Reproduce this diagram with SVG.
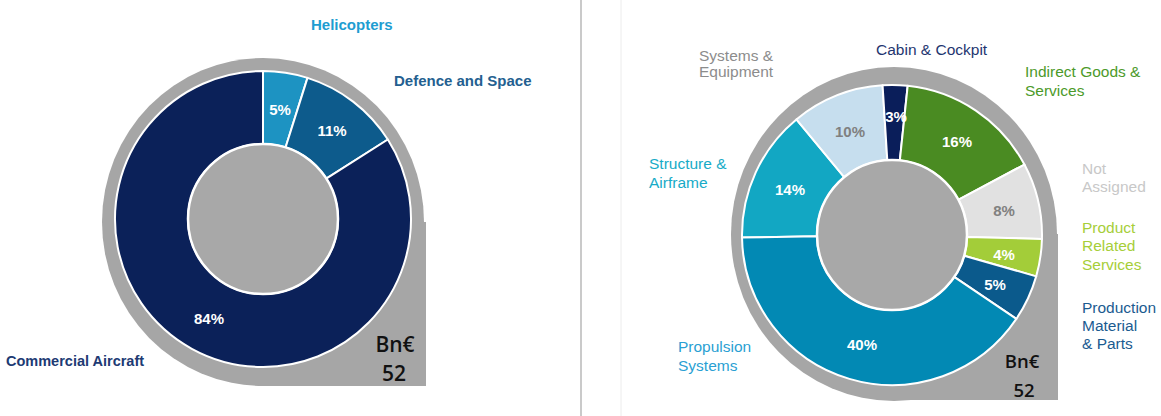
<svg xmlns="http://www.w3.org/2000/svg" width="1161" height="416" viewBox="0 0 1161 416">
<style>
.lbl{font-family:"Liberation Sans",Arial,sans-serif;font-size:15.5px}
.lblb{font-family:"Liberation Sans",Arial,sans-serif;font-size:15px;font-weight:bold}
.pct{font-family:"Liberation Sans",Arial,sans-serif;font-size:15px;font-weight:bold;text-anchor:middle}
.w{fill:#ffffff}
.g{fill:#808080}
.seg{stroke:#ffffff;stroke-width:2;stroke-linejoin:round}
.hub{fill:#a8a8a8;stroke:#ffffff;stroke-width:2.5}
.back{fill:#a6a6a6}
.bn{font-family:"Open Sans","Noto Sans",sans-serif;font-weight:600;fill:#111111;text-anchor:middle}
</style>
<rect x="0" y="0" width="1161" height="416" fill="#ffffff"/>
<line x1="581" y1="0" x2="581" y2="416" stroke="#b8b8b8" stroke-width="1.5"/>
<line x1="621" y1="0" x2="621" y2="416" stroke="#ececec" stroke-width="1"/>

<g id="chart-left">
  <g id="left-backdrop">
    <ellipse class="back" cx="263" cy="222" rx="161" ry="164"/>
    <rect class="back" x="263" y="222" width="163" height="164"/>
  </g>
  <g id="node-helicopters">
    <path class="seg" fill="#1d93c2" d="M263,71 A148,148 0 0 1 307.51,77.85 L285.55,147.47 A75,75 0 0 0 263,144 Z"/>
    <text class="pct w" x="280" y="115">5%</text>
    <text class="lblb" x="311" y="30" fill="#1e9dd1">Helicopters</text>
  </g>
  <g id="node-defence">
    <path class="seg" fill="#0d5b8c" d="M307.51,77.85 A148,148 0 0 1 387.82,139.48 L326.25,178.70 A75,75 0 0 0 285.55,147.47 Z"/>
    <text class="pct w" x="332" y="136">11%</text>
    <text class="lblb" x="394" y="86" fill="#245f90">Defence and Space</text>
  </g>
  <g id="node-commercial">
    <path class="seg" fill="#0b2159" d="M387.82,139.48 A148,148 0 1 1 263,71 L263,144 A75,75 0 1 0 326.25,178.70 Z"/>
    <text class="pct w" x="209" y="324">84%</text>
    <text class="lblb" x="6" y="366" fill="#203a73" style="font-size:14.5px">Commercial Aircraft</text>
  </g>
  <circle id="left-hub" class="hub" cx="263" cy="219" r="75"/>
  <g id="left-total">
    <text class="bn" x="395" y="352" font-size="21">Bn€</text>
    <text class="bn" x="394" y="381" font-size="21">52</text>
  </g>
</g>

<g id="chart-right">
  <g id="right-backdrop">
    <ellipse class="back" cx="894" cy="234" rx="163" ry="167"/>
    <rect class="back" x="894" y="234" width="164" height="166"/>
  </g>
  <g id="node-structure">
    <path class="seg" fill="#12a7c3" d="M742.02,237.62 A150,150 0 0 1 796.39,119.42 L844.19,177.21 A75,75 0 0 0 817.01,236.31 Z"/>
    <text class="pct w" x="790" y="195">14%</text>
    <text class="lbl" fill="#17abc7"><tspan x="649" y="169">Structure &amp;</tspan><tspan x="649" y="188">Airframe</tspan></text>
  </g>
  <g id="node-systems">
    <path class="seg" fill="#c6deee" d="M796.39,119.42 A150,150 0 0 1 882.58,85.30 L887.29,160.15 A75,75 0 0 0 844.19,177.21 Z"/>
    <text class="pct g" x="850" y="137">10%</text>
    <text class="lbl" fill="#8c8c8c"><tspan x="699" y="61">Systems &amp;</tspan><tspan x="699" y="77">Equipment</tspan></text>
  </g>
  <g id="node-cabin">
    <path class="seg" fill="#0a1e5a" d="M882.58,85.30 A150,150 0 0 1 907.68,85.82 L899.84,160.41 A75,75 0 0 0 887.29,160.15 Z"/>
    <text class="lbl" x="876" y="55" fill="#1f3670">Cabin &amp; Cockpit</text>
  </g>
  <g id="node-indirect">
    <path class="seg" fill="#4a8b22" d="M907.68,85.82 A150,150 0 0 1 1024.44,164.58 L958.22,199.79 A75,75 0 0 0 899.84,160.41 Z"/>
    <text class="pct w" x="957" y="147">16%</text>
    <text class="lbl" fill="#4c9a2a"><tspan x="1025" y="77">Indirect Goods &amp;</tspan><tspan x="1025" y="96">Services</tspan></text>
  </g>
  <text class="pct w" x="896" y="122">3%</text>
  <g id="node-notassigned">
    <path class="seg" fill="#e1e1e1" d="M1024.44,164.58 A150,150 0 0 1 1041.95,238.93 L966.97,236.96 A75,75 0 0 0 958.22,199.79 Z"/>
    <text class="pct g" x="1004" y="216">8%</text>
    <text class="lbl" fill="#c8c8c8"><tspan x="1082" y="174">Not</tspan><tspan x="1082" y="192">Assigned</tspan></text>
  </g>
  <g id="node-product">
    <path class="seg" fill="#a3cd39" d="M1041.95,238.93 A150,150 0 0 1 1036.19,276.35 L964.09,255.67 A75,75 0 0 0 966.97,236.96 Z"/>
    <text class="pct w" x="1004" y="260">4%</text>
    <text class="lbl" fill="#a6ce39"><tspan x="1082" y="233">Product</tspan><tspan x="1082" y="251">Related</tspan><tspan x="1082" y="270">Services</tspan></text>
  </g>
  <g id="node-production">
    <path class="seg" fill="#0b5a8c" d="M1036.19,276.35 A150,150 0 0 1 1016.36,318.88 L954.18,276.94 A75,75 0 0 0 964.09,255.67 Z"/>
    <text class="pct w" x="995" y="290">5%</text>
    <text class="lbl" fill="#1b5b90"><tspan x="1082" y="313">Production</tspan><tspan x="1082" y="331">Material</tspan><tspan x="1082" y="349">&amp; Parts</tspan></text>
  </g>
  <g id="node-propulsion">
    <path class="seg" fill="#0289b4" d="M1016.36,318.88 A150,150 0 0 1 742.02,237.62 L817.01,236.31 A75,75 0 0 0 954.18,276.94 Z"/>
    <text class="pct w" x="862" y="350">40%</text>
    <text class="lbl" fill="#2a9fd3"><tspan x="678" y="352">Propulsion</tspan><tspan x="678" y="371">Systems</tspan></text>
  </g>
  <circle id="right-hub" class="hub" cx="892" cy="235" r="75"/>
  <g id="right-total">
    <text class="bn" x="1022" y="368" font-size="18.5">Bn€</text>
    <text class="bn" x="1024" y="397" font-size="18.5">52</text>
  </g>
</g>
<g id="connectors"/>
</svg>
